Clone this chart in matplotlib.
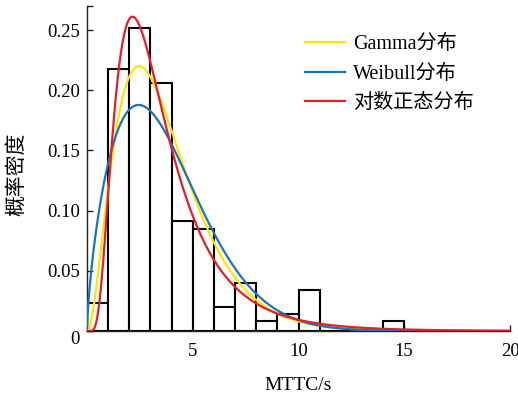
import math
import numpy as np
import matplotlib
matplotlib.use('Agg')
import matplotlib.pyplot as plt

plt.rcParams['font.family'] = ['Liberation Serif', 'Noto Sans CJK SC']
plt.rcParams['mathtext.fontset'] = 'stix'

# histogram of MTTC samples (bin width 1 s), density normalised
bin_left = np.arange(0, 19)
density = [0.023, 0.218, 0.252, 0.206, 0.091, 0.085, 0.020, 0.040, 0.008,
           0.014, 0.034, 0.0, 0.0, 0.0, 0.008, 0.0, 0.0, 0.0, 0.0]

# fitted distribution parameters
gamma_k, gamma_theta = 3.0, 1.23
weib_k, weib_lam = 1.69, 4.15
logn_mu, logn_sigma = 1.12, 0.595

labels = ['Gamma分布', 'Weibull分布', '对数正态分布']
colors = ['#FFE600', '#1A74BC', '#E41E2B']

x = np.linspace(0.001, 20, 800)
gamma_pdf = x**(gamma_k - 1) * np.exp(-x / gamma_theta) / (math.gamma(gamma_k) * gamma_theta**gamma_k)
weib_pdf = (weib_k / weib_lam) * (x / weib_lam)**(weib_k - 1) * np.exp(-(x / weib_lam)**weib_k)
logn_pdf = np.exp(-(np.log(x) - logn_mu)**2 / (2 * logn_sigma**2)) / (x * logn_sigma * np.sqrt(2 * np.pi))

fig = plt.figure(figsize=(5.18, 4.0), dpi=100)
ax = fig.add_axes([87/518, 69/400, 423/518, 325/400])

ax.bar(bin_left, density, width=1.0, align='edge', facecolor='white',
       edgecolor='black', linewidth=1.5, zorder=2)

for y, c, lab in zip([gamma_pdf, weib_pdf, logn_pdf], colors, labels):
    ax.plot(x, y, color=c, lw=1.6, label=lab, zorder=3)

ax.set_xlim(0, 20)
ax.set_ylim(0, 0.27)
ax.set_xticks([0, 5, 10, 15, 20])
ax.set_xticklabels(['', '5', '10', '15', '20'])
ax.set_yticks([0, 0.05, 0.10, 0.15, 0.20, 0.25])
ax.set_yticklabels(['', '0.05', '0.10', '0.15', '0.20', '0.25'])
ax.set_yticks([0.27], minor=True)
ax.tick_params(axis='both', which='both', direction='in', length=4, width=1,
               labelsize=13.5, color='#222222')
ax.tick_params(axis='x', pad=9)
ax.tick_params(axis='y', pad=5)
for s in ['top', 'right']:
    ax.spines[s].set_visible(False)
for s in ['left', 'bottom']:
    ax.spines[s].set_linewidth(1.0)
    ax.spines[s].set_color('#222222')

# shared origin label
ax.annotate('0', xy=(0, 0), xycoords='data', xytext=(-9, -6),
            textcoords='offset points', ha='center', va='center', fontsize=13.5)

ax.set_xlabel('MTTC/s', fontsize=14, labelpad=12)
fig.text(16/518, 1 - 174/400, '概率密度', rotation=90, ha='center', va='center',
         fontsize=15, family=['Noto Sans CJK SC'])

fig.legend(loc='upper left', bbox_to_anchor=(305/518, 1 - 35/400), frameon=False,
           fontsize=14.5, handlelength=2.0, handletextpad=0.4, borderpad=0,
           borderaxespad=0, labelspacing=0.52)

fig.savefig('out.png', dpi=100)
